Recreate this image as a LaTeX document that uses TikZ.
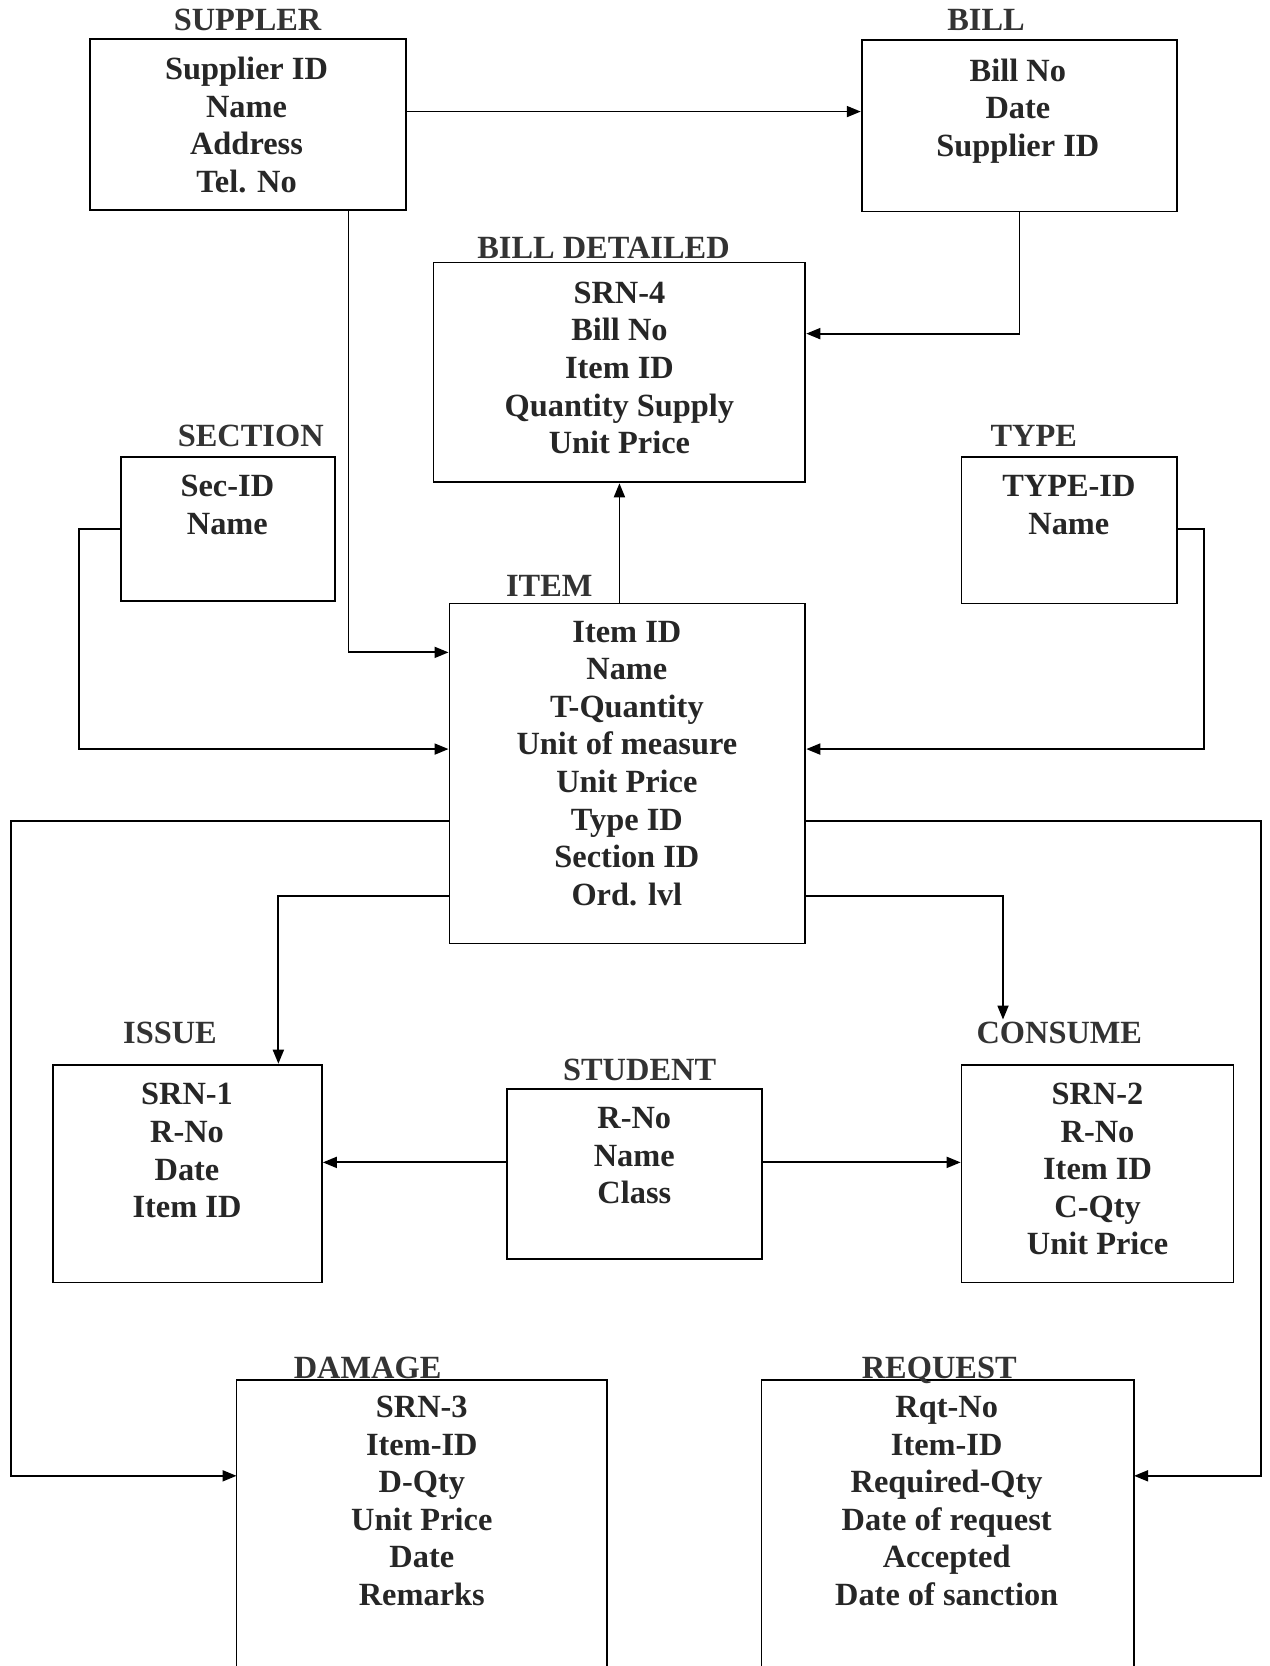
\documentclass[tikz,border=0pt]{standalone}
\usepackage{fontspec}
\setmainfont{Liberation Serif}
\usetikzlibrary{positioning, arrows.meta}

\begin{document}
\begin{tikzpicture}[
    x=0.5314pt, y=-0.5314pt,
    entity/.style n args={2}{draw, line width=0.9pt, inner sep=0pt, minimum width=#1*0.5314pt, minimum height=#2*0.5314pt},
    openentity/.style n args={2}{inner sep=0pt, minimum width=#1*0.5314pt, minimum height=#2*0.5314pt},
    fields/.style={font=\fontsize{16.2}{18.8}\selectfont\bfseries, align=center, anchor=base, inner sep=0pt, text=black!85},
    tabletitle/.style={font=\fontsize{16.2}{18.8}\selectfont\bfseries, anchor=base, inner sep=1pt, text=black!80},
    rel/.style={-{Triangle[length=7pt, width=5.5pt]}, line width=0.9pt}
]
\useasboundingbox (0,0) rectangle (1195,1568);

% Tables (boxes)
\node[entity={297}{161}] (supplier) at (233.5,117.5) {};
\node[entity={297}{161}] (bill) at (959.5,118.5) {};
\node[entity={350}{207}] (bdet) at (583,350.5) {};
\node[entity={201}{136}] (section) at (214.5,498) {};
\node[entity={203}{138}] (type) at (1006.5,499) {};
\node[entity={335}{320}] (item) at (590.5,728) {};
\node[entity={253}{205}] (issue) at (176.5,1104.5) {};
\node[entity={240}{160}] (student) at (597,1105) {};
\node[entity={256}{205}] (consume) at (1033,1104.5) {};
\node[openentity={348}{269}] (damage) at (397,1433.5) {};
\node[openentity={350}{269}] (request) at (892,1433.5) {};
\draw[line width=0.9pt] (damage.south west) |- (damage.north east) -- (damage.south east);
\draw[line width=0.9pt] (request.south west) |- (request.north east) -- (request.south east);

% Table names
\node[tabletitle] (ttl-supplier) at (233,29) {SUPPLER};
\node[tabletitle] (ttl-bill) at (928,29) {BILL};
\node[tabletitle] (ttl-bdet) at (568,243) {BILL DETAILED};
\node[tabletitle] (ttl-section) at (236,420) {SECTION};
\node[tabletitle] (ttl-type) at (973,420) {TYPE};
\node[tabletitle] (ttl-item) at (517,561) {ITEM};
\node[tabletitle] (ttl-issue) at (160,982) {ISSUE};
\node[tabletitle] (ttl-student) at (602,1017) {STUDENT};
\node[tabletitle] (ttl-consume) at (997,982) {CONSUME};
\node[tabletitle] (ttl-damage) at (346,1297) {DAMAGE};
\node[tabletitle] (ttl-request) at (884,1297) {REQUEST};

% Fields (anchored at the baseline of the last line)
\node[fields] (f-supplier) at (232,181) {Supplier ID\\Name\\Address\\Tel. No};
\node[fields] (f-bill) at (958,147) {Bill No\\Date\\Supplier ID};
\node[fields] (f-bdet) at (583,427) {SRN-4\\Bill No\\Item ID\\Quantity Supply\\Unit Price};
\node[fields] (f-section) at (214,503) {Sec-ID\\Name};
\node[fields] (f-type) at (1006,503) {TYPE-ID\\Name};
\node[fields] (f-item) at (590,852) {Item ID\\Name\\T-Quantity\\Unit of measure\\Unit Price\\Type ID\\Section ID\\Ord. lvl};
\node[fields] (f-issue) at (176,1146) {SRN-1\\R-No\\Date\\Item ID};
\node[fields] (f-student) at (597,1133) {R-No\\Name\\Class};
\node[fields] (f-consume) at (1033,1181) {SRN-2\\R-No\\Item ID\\C-Qty\\Unit Price};
\node[fields] (f-damage) at (397,1511) {SRN-3\\Item-ID\\D-Qty\\Unit Price\\Date\\Remarks};
\node[fields] (f-request) at (891,1511) {Rqt-No\\Item-ID\\Required-Qty\\Date of request\\Accepted\\Date of sanction};

% Relations
\draw[rel] (supplier.east |- 0,105) -- (bill.west |- 0,105);
\draw[rel] (bill.south) |- (bdet.east |- 0,314);
\draw[rel] (bdet.south |- item.north) -- (bdet.south);
\draw[rel] (supplier.south -| 328,0) |- (item.west |- 0,614);
\draw[rel] (section.west |- 0,498) -- (74,498) |- (item.west |- 0,705);
\draw[rel] (type.east |- 0,498) -- (1133,498) |- (item.east |- 0,705);
\draw[rel] (item.west |- 0,773) -- (10,773) |- (damage.west |- 0,1389);
\draw[rel] (item.east |- 0,773) -- (1187,773) |- (request.east |- 0,1389);
\draw[rel] (item.west |- 0,843) -| (issue.north -| 262,0);
\draw[rel] (item.east |- 0,843) -| (ttl-consume.north -| 944,0);
\draw[rel] (student.west |- 0,1094) -- (issue.east |- 0,1094);
\draw[rel] (student.east |- 0,1094) -- (consume.west |- 0,1094);

\end{tikzpicture}
\end{document}
